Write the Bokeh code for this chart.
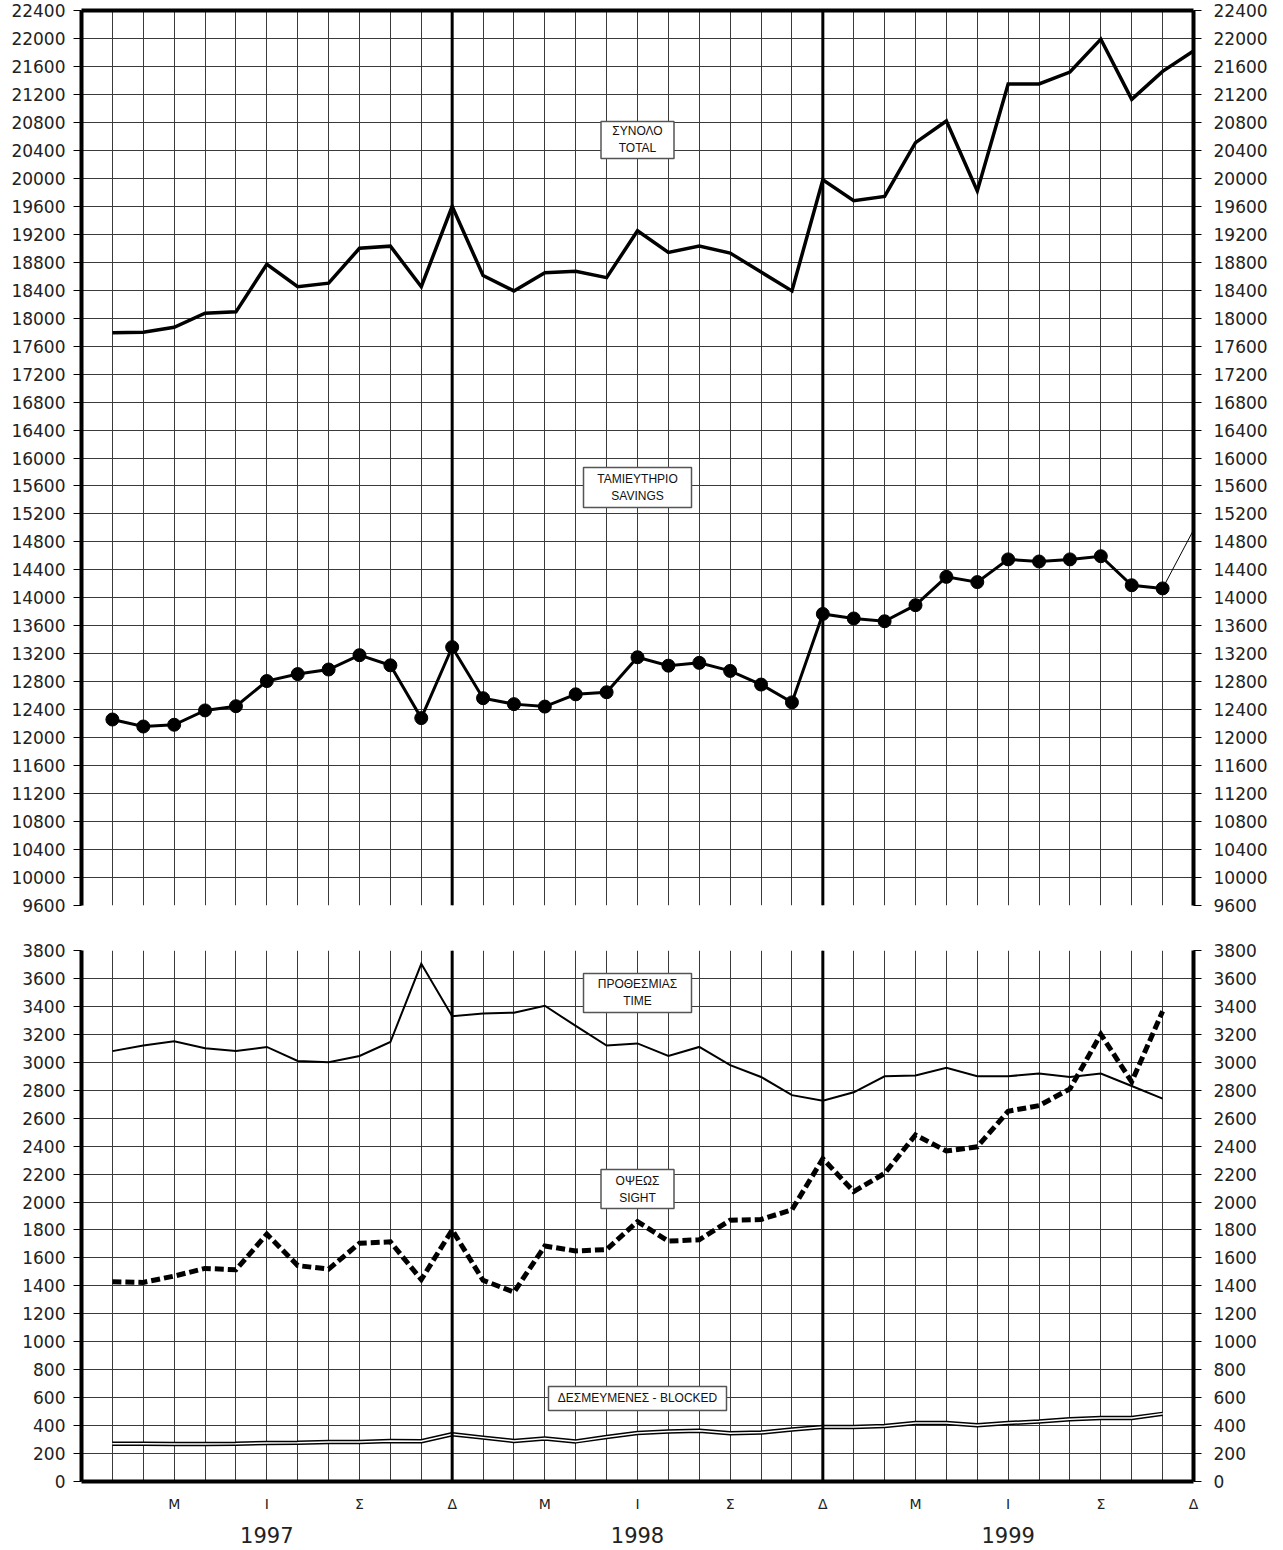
import numpy as np
from bokeh.plotting import figure
from bokeh.models import FixedTicker, LinearAxis, Span, Range1d, Grid
from bokeh.layouts import column
from bokeh.embed import file_html
from bokeh.resources import INLINE
from bokeh.core.properties import value

# ---------------- data ----------------
# month index: 1 = Jan 1997 ... 36 = Dec 1999 (0 = Dec 1996, left edge)
months = list(range(1, 37))

total = [17790, 17800, 17870, 18070, 18090, 18770, 18450, 18500, 19000, 19030, 18450, 19600,
         18610, 18390, 18650, 18670, 18580, 19250, 18940, 19030, 18930, 18660, 18390, 19980,
         19680, 19740, 20510, 20820, 19820, 21350, 21350, 21520, 21990, 21130, 21530, 21820]

savings = [12260, 12160, 12185, 12390, 12450, 12810, 12910, 12975, 13180, 13035, 12280, 13295,
           12565, 12480, 12445, 12620, 12650, 13150, 13030, 13070, 12955, 12760, 12505, 13770,
           13705, 13665, 13895, 14300, 14225, 14550, 14520, 14550, 14595, 14180, 14135, 14970]

time_dep = [3080, 3120, 3150, 3100, 3080, 3110, 3010, 3000, 3045, 3145, 3705, 3330,
            3350, 3355, 3405, 3260, 3120, 3135, 3045, 3110, 2980, 2895, 2765, 2725,
            2785, 2900, 2905, 2960, 2900, 2900, 2920, 2895, 2920, 2830, 2740]

sight = [1430, 1425, 1470, 1525, 1515, 1770, 1545, 1520, 1705, 1715, 1445, 1800,
         1440, 1355, 1685, 1650, 1660, 1860, 1720, 1730, 1870, 1875, 1945, 2310,
         2075, 2205, 2480, 2365, 2395, 2650, 2690, 2810, 3200, 2860, 3365]

blocked = [270, 270, 268, 268, 270, 275, 277, 282, 283, 290, 288, 338,
           314, 290, 307, 287, 318, 347, 357, 364, 345, 350, 372, 390,
           390, 398, 418, 418, 402, 418, 430, 445, 455, 455, 484]

top_ticks = list(range(9600, 22401, 400))
bottom_ticks = list(range(0, 3801, 200))
month_tick_pos = [3, 6, 9, 12, 15, 18, 21, 24, 27, 30, 33, 36]
month_tick_labels = ["Μ", "Ι", "Σ", "Δ", "Μ", "Ι", "Σ", "Δ", "Μ", "Ι", "Σ", "Δ"]
year_tick_pos = [6, 18, 30]
year_tick_labels = ["1997", "1998", "1999"]
year_ends = [12, 24]

# box labels (x index, value, lines, box width px, box height px)
top_boxes = [(18, 20548, ["ΣΥΝΟΛΟ", "TOTAL"], 73, 37),
             (18, 15579, ["ΤΑΜΙΕΥΤΗΡΙΟ", "SAVINGS"], 108, 40)]
bottom_boxes = [(18, 3496, ["ΠΡΟΘΕΣΜΙΑΣ", "TIME"], 108, 39),
                (18, 2093, ["ΟΨΕΩΣ", "SIGHT"], 73, 39),
                (18, 594, ["ΔΕΣΜΕΥΜΕΝΕΣ - BLOCKED"], 178, 24)]

FONT = "DejaVu Sans"
BOX_FONT = "Liberation Sans"
GRID_COLOR = "#3a3a3a"


def style_axis(ax, standoff):
    ax.axis_line_width = 4
    ax.axis_line_color = "black"
    ax.major_tick_out = 8
    ax.major_tick_in = 0
    ax.major_tick_line_color = "black"
    ax.minor_tick_line_color = None
    ax.major_label_text_font = FONT
    ax.major_label_text_font_size = "17px"
    ax.major_label_text_color = "#222222"
    ax.major_label_standoff = standoff


def base_fig(yr, yticks, frame_h, top_b, bottom_b):
    p = figure(frame_width=1112, frame_height=frame_h,
               x_range=Range1d(0, 36), y_range=Range1d(*yr),
               x_axis_type=None, y_axis_type=None,
               output_backend="svg", toolbar_location=None,
               min_border_left=81, min_border_right=82,
               min_border_top=top_b, min_border_bottom=bottom_b)
    p.outline_line_color = None
    p.background_fill_color = "white"
    left = LinearAxis(ticker=FixedTicker(ticks=yticks))
    style_axis(left, 8)
    p.add_layout(left, "left")
    right = LinearAxis(ticker=FixedTicker(ticks=yticks))
    style_axis(right, 12)
    p.add_layout(right, "right")
    p.add_layout(Grid(dimension=0, ticker=FixedTicker(ticks=list(range(0, 37))),
                      grid_line_color=GRID_COLOR, grid_line_width=1))
    p.add_layout(Grid(dimension=1, ticker=FixedTicker(ticks=yticks),
                      grid_line_color=GRID_COLOR, grid_line_width=1))
    for loc in year_ends:
        p.add_layout(Span(location=loc, dimension="height", line_color="black", line_width=3))
    return p


def add_boxes(p, boxes):
    for (bx, by, lines, bw, bh) in boxes:
        p.rect(x=[bx], y=[by], width=bw, height=bh, width_units="screen",
               height_units="screen", fill_color="white", line_color="#555555",
               line_width=1.5)
        n = len(lines)
        for i, t in enumerate(lines):
            off = 0 if n == 1 else (-8.5 if i == 0 else 8.5)
            p.text(x=[bx], y=[by], text=[t], y_offset=off, text_align="center",
                   text_baseline="middle", text_font=value(BOX_FONT),
                   text_font_size="12px", text_color="#111111")


# ---------------- top panel ----------------
p1 = base_fig((9600, 22400), top_ticks, 895, 10, 22)
top_axis = LinearAxis(ticker=FixedTicker(ticks=[]))
top_axis.axis_line_width = 4
top_axis.axis_line_color = "black"
top_axis.major_label_text_font_size = "0px"
top_axis.major_tick_line_color = None
top_axis.minor_tick_line_color = None
top_axis.major_label_standoff = 0
p1.add_layout(top_axis, "above")

p1.line(months, total, line_width=3.5, line_color="black", line_join="miter")
p1.line(months[:35], savings[:35], line_width=3, line_color="black", line_join="miter")
p1.line(months[34:36], savings[34:36], line_width=1, line_color="black")
p1.scatter(months[:35], savings[:35], size=13, fill_color="black", line_color="black")
add_boxes(p1, top_boxes)

# ---------------- bottom panel ----------------
p2 = base_fig((0, 3800), bottom_ticks, 531, 23, 66)

m_axis = LinearAxis(ticker=FixedTicker(ticks=month_tick_pos),
                    major_label_overrides={k: v for k, v in zip(month_tick_pos, month_tick_labels)})
m_axis.axis_line_width = 4
m_axis.axis_line_color = "black"
m_axis.major_tick_line_color = None
m_axis.minor_tick_line_color = None
m_axis.major_label_text_font = FONT
m_axis.major_label_text_font_size = "14px"
m_axis.major_label_text_color = "#222222"
m_axis.major_label_standoff = 8
p2.add_layout(m_axis, "below")

y_axis = LinearAxis(ticker=FixedTicker(ticks=year_tick_pos),
                    major_label_overrides={k: v for k, v in zip(year_tick_pos, year_tick_labels)})
y_axis.axis_line_color = None
y_axis.major_tick_line_color = None
y_axis.minor_tick_line_color = None
y_axis.major_label_text_font = FONT
y_axis.major_label_text_font_size = "21px"
y_axis.major_label_text_color = "#222222"
y_axis.major_label_standoff = 6
p2.add_layout(y_axis, "below")

m35 = months[:35]
p2.line(m35, time_dep, line_width=2, line_color="black", line_join="miter")
p2.line(m35, sight, line_width=5, line_color="black", line_dash="9 4", line_join="miter")
p2.line(m35, blocked, line_width=4.5, line_color="black")
p2.line(m35, blocked, line_width=1.5, line_color="white")
add_boxes(p2, bottom_boxes)

layout = column(p1, p2, spacing=0)
open("out.html", "w").write(file_html(layout, INLINE))
